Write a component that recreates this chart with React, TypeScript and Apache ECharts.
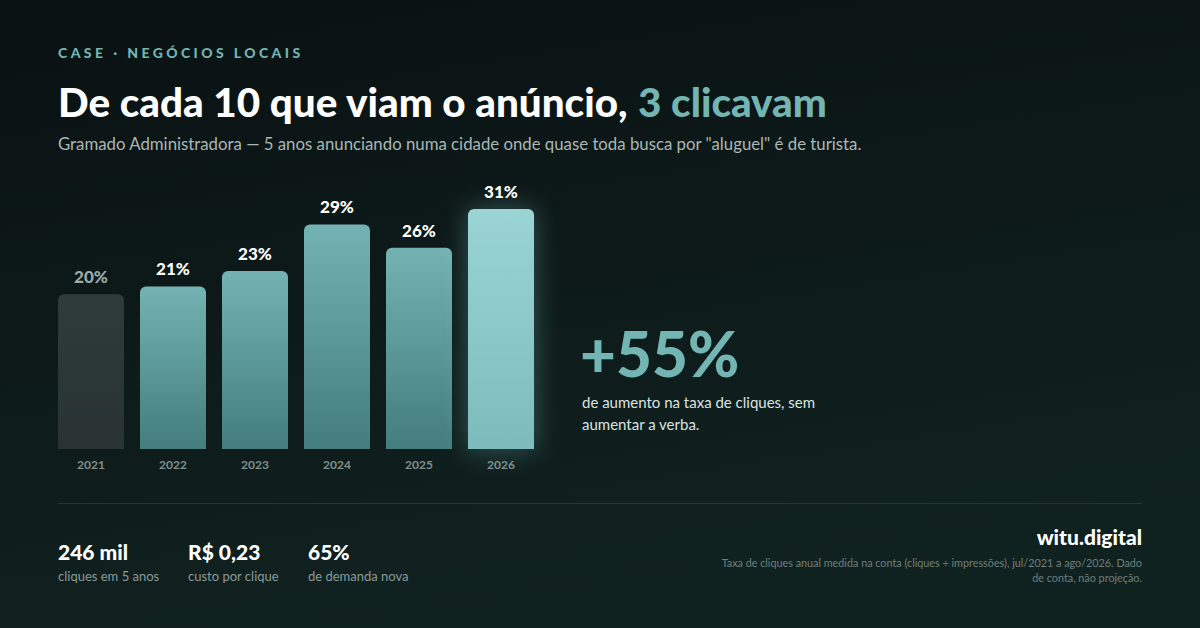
import React, { useEffect, useRef } from 'react';
import * as echarts from 'echarts';

// taxa de cliques anual (%)
const years = ['2021', '2022', '2023', '2024', '2025', '2026'];
const ctrValues = [20, 21, 23, 29, 26, 31];

const stats = [
  { value: '246 mil', label: 'cliques em 5 anos' },
  { value: 'R$ 0,23', label: 'custo por clique' },
  { value: '65%', label: 'de demanda nova' },
];

const FONT = 'Lato, "Noto Sans", sans-serif';
const TEAL = '#72b5b3';

const barStyle = (i: number) => {
  if (i === 0) {
    return {
      color: {
        type: 'linear', x: 0, y: 0, x2: 0, y2: 1,
        colorStops: [
          { offset: 0, color: '#2f3b3b' },
          { offset: 1, color: '#283332' },
        ],
      },
      borderRadius: [6, 6, 0, 0],
    };
  }
  if (i === years.length - 1) {
    return {
      color: {
        type: 'linear', x: 0, y: 0, x2: 0, y2: 1,
        colorStops: [
          { offset: 0, color: '#9ad4d4' },
          { offset: 1, color: '#7dbcbc' },
        ],
      },
      borderRadius: [6, 6, 0, 0],
      shadowBlur: 26,
      shadowColor: 'rgba(130, 205, 205, 0.35)',
    };
  }
  return {
    color: {
      type: 'linear', x: 0, y: 0, x2: 0, y2: 1,
      colorStops: [
        { offset: 0, color: '#74b3b3' },
        { offset: 1, color: '#437d7d' },
      ],
    },
    borderRadius: [6, 6, 0, 0],
  };
};

export default function App() {
  const chartRef = useRef<HTMLDivElement>(null);

  useEffect(() => {
    if (!chartRef.current) return;
    const chart = echarts.init(chartRef.current, undefined, { renderer: 'svg' });

    const statGraphics: any[] = [];
    const statX = [58, 188, 308];
    stats.forEach((s, i) => {
      statGraphics.push({
        type: 'text', x: statX[i], y: 551,
        style: { text: s.value, fill: '#ffffff', font: `900 21px ${FONT}`, textVerticalAlign: 'middle' },
      });
      statGraphics.push({
        type: 'text', x: statX[i], y: 576,
        style: { text: s.label, fill: '#8a9a98', font: `13px ${FONT}`, textVerticalAlign: 'middle' },
      });
    });

    const option: echarts.EChartsOption = {
      animation: false,
      backgroundColor: {
        type: 'linear', x: 0, y: 0, x2: 0.3, y2: 1,
        colorStops: [
          { offset: 0, color: '#0a1112' },
          { offset: 1, color: '#102220' },
        ],
      } as any,
      grid: { left: 50, top: 209, width: 492, height: 240 },
      xAxis: {
        type: 'category',
        data: years,
        axisLine: { show: false },
        axisTick: { show: false },
        axisLabel: { color: '#7f8f8d', fontFamily: FONT, fontWeight: 'bold', fontSize: 12, margin: 9 },
      },
      yAxis: {
        type: 'value', min: 0, max: 31,
        show: false,
        splitLine: { show: false },
      },
      series: [
        {
          type: 'bar',
          barWidth: 66,
          data: ctrValues.map((v, i) => ({
            value: v,
            itemStyle: barStyle(i) as any,
            label: { color: i === 0 ? '#9aaba9' : '#ffffff' },
          })),
          label: {
            show: true,
            position: 'top',
            distance: 9,
            formatter: '{c}%',
            fontFamily: FONT,
            fontWeight: 900,
            fontSize: 17,
          },
        },
      ],
      graphic: [
        {
          type: 'text', x: 58, y: 101,
          style: {
            text: '{w|De cada 10 que viam o anúncio, }{t|3 clicavam}',
            textVerticalAlign: 'middle',
            rich: {
              w: { fill: '#ffffff', font: `900 40.4px ${FONT}` },
              t: { fill: TEAL, font: `900 40.4px ${FONT}` },
            },
          } as any,
        },
        {
          type: 'text', x: 58, y: 143,
          style: {
            text: 'Gramado Administradora — 5 anos anunciando numa cidade onde quase toda busca por "aluguel" é de turista.',
            fill: '#a9b7b5', font: `16.8px ${FONT}`, textVerticalAlign: 'middle',
          },
        },
        {
          type: 'text', x: 580, y: 353,
          style: { text: '+55%', fill: TEAL, font: `900 62px ${FONT}`, textVerticalAlign: 'middle' },
        },
        {
          type: 'text', x: 582, y: 402,
          style: { text: 'de aumento na taxa de cliques, sem', fill: '#dbe3e2', font: `15px ${FONT}`, textVerticalAlign: 'middle' },
        },
        {
          type: 'text', x: 582, y: 424,
          style: { text: 'aumentar a verba.', fill: '#dbe3e2', font: `15px ${FONT}`, textVerticalAlign: 'middle' },
        },
        {
          type: 'line',
          shape: { x1: 58, y1: 503.5, x2: 1142, y2: 503.5 },
          style: { stroke: '#263633', lineWidth: 1 },
        },
        ...statGraphics,
        {
          type: 'text', x: 1142, y: 536,
          style: { text: 'witu.digital', fill: '#ffffff', font: `900 21px ${FONT}`, textAlign: 'right', textVerticalAlign: 'middle' },
        },
        {
          type: 'text', x: 1142, y: 562,
          style: {
            text: 'Taxa de cliques anual medida na conta (cliques ÷ impressões), jul/2021 a ago/2026. Dado',
            fill: '#6f7f7d', font: `10.8px ${FONT}`, textAlign: 'right', textVerticalAlign: 'middle',
          },
        },
        {
          type: 'text', x: 1142, y: 577,
          style: {
            text: 'de conta, não projeção.',
            fill: '#6f7f7d', font: `10.8px ${FONT}`, textAlign: 'right', textVerticalAlign: 'middle',
          },
        },
      ],
    };

    chart.setOption(option);
    return () => chart.dispose();
  }, []);

  return (
    <div style={{ position: 'fixed', left: 0, top: 0, width: '1200px', height: '628px' }}>
      <div ref={chartRef} style={{ position: 'absolute', left: 0, top: 0, width: '1200px', height: '628px' }} />
      {/* rótulo com espaçamento entre letras (o texto do zrender não tem letterSpacing) */}
      <div
        style={{
          position: 'absolute',
          left: 58,
          top: 44,
          fontFamily: FONT,
          fontWeight: 900,
          fontSize: 14,
          lineHeight: '18px',
          letterSpacing: '3.4px',
          color: TEAL,
          whiteSpace: 'nowrap',
        }}
      >
        CASE · NEGÓCIOS LOCAIS
      </div>
    </div>
  );
}
